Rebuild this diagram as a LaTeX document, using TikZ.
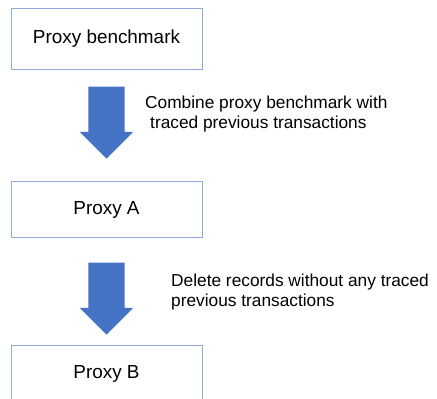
\documentclass[tikz,border=0pt]{standalone}
\usepackage{fontspec}
\setmainfont{Liberation Sans}
\usetikzlibrary{shapes.arrows}

\definecolor{boxline}{HTML}{8FAADC}
\definecolor{arrowblue}{HTML}{4472C4}

\tikzset{
  stage/.style={draw=boxline, line width=0.9pt, minimum width=191pt, inner sep=0pt, font=\fontsize{18.9}{22}\selectfont},
  flow/.style={single arrow, fill=arrowblue, rotate=-90, minimum height=72pt, minimum width=53pt, single arrow head extend=8.5pt, inner xsep=0pt, inner ysep=18pt},
  note/.style={anchor=west, align=left, inner sep=0pt, font=\fontsize{17.3}{19.5}\selectfont}
}

\begin{document}
\begin{tikzpicture}[x=1pt,y=1pt]
        \useasboundingbox (0,0) rectangle (437,-399);

        \node[stage, minimum height=61pt] (bench) at (106.5,-38.8) {Proxy benchmark};
        \node[stage, minimum height=56pt] (proxya) at (106.5,-209.7) {Proxy A};
        \node[stage, minimum height=56pt] (proxyb) at (106.5,-373.7) {Proxy B};

        \node[flow] (combinestep) at (106.5,-113.5) {};
        \node[flow] (deletestep) at (106.5,-289.5) {};

        \node[note] (combine) at (145,-114) {Combine proxy benchmark with\\ \hspace{5pt}traced previous transactions};
        \node[note] (delete) at (171,-292) {Delete records without any traced\\previous transactions};
    \end{tikzpicture}
\end{document}
